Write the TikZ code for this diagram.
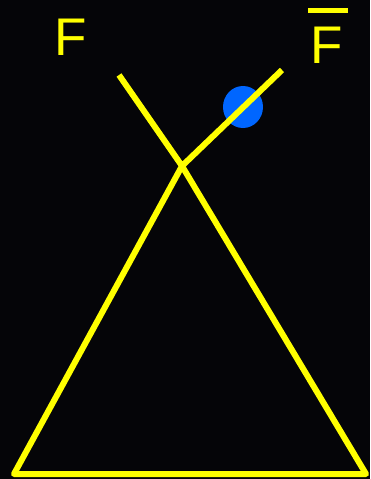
\documentclass[tikz,border=0pt]{standalone}
\usepackage{fontspec}
\setmainfont{Liberation Sans}
\usepackage{tikz}
\usetikzlibrary{calc}
\definecolor{night}{HTML}{050508}
\definecolor{lineyellow}{HTML}{FFFF00}
\definecolor{dotblue}{HTML}{0066FF}
\tikzset{
  leg/.style={draw=lineyellow,line width=6pt,line join=round},
  flabel/.style={text=lineyellow,inner sep=0pt,font=\fontsize{53}{60}\selectfont},
  overbar/.style={draw=lineyellow,line width=5pt},
  spot/.style={fill=dotblue,draw=none}
}
\begin{document}
\begin{tikzpicture}[x=1pt,y=-1pt]
    \path[use as bounding box,fill=night] (0,0) rectangle (370,479);

    \coordinate (apex)  at (182,166);
    \coordinate (armL)  at (119,75);
    \coordinate (armR)  at (282,70);
    \coordinate (baseL) at (14,474);
    \coordinate (baseR) at (366,474);

    \fill[spot] (243,107) ellipse [x radius=20,y radius=21];

    \draw[leg] (armL) -- (apex) -- (baseR) -- (baseL) -- (apex) -- (armR);

    \node[flabel] (f) at (71,37) {F};
    \node[flabel] (fbar) at (326.5,45.5) {F};
    \draw[overbar] ([xshift=-18.5pt,yshift=16.5pt]fbar.north)
      -- ([xshift=21.5pt,yshift=16.5pt]fbar.north);
\end{tikzpicture}
\end{document}
